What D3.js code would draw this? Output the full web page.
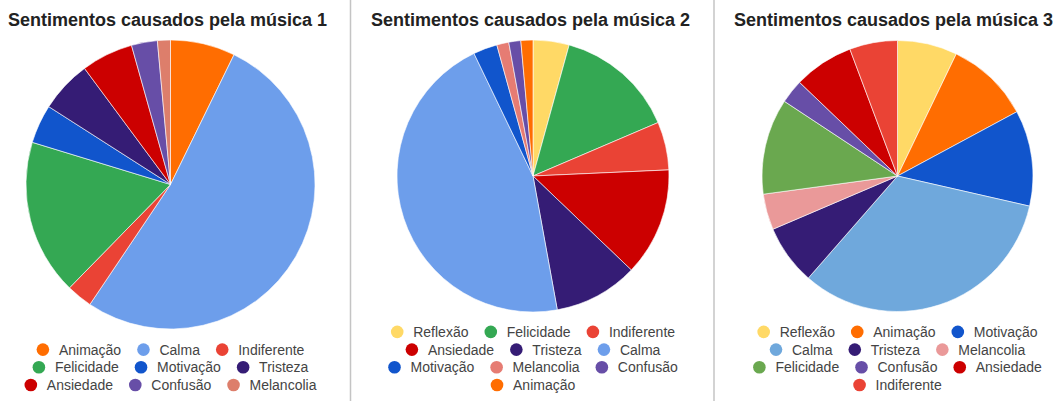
<!DOCTYPE html>
<html>
<head>
<meta charset="utf-8">
<script src="https://cdn.jsdelivr.net/npm/d3@7"></script>
<style>
    body { margin: 0; background: #fff; }
    .title { font-family: Arial, "Liberation Sans", sans-serif; font-weight: bold; font-size: 18px; fill: #222; }
    .legendText { font-family: Arial, "Liberation Sans", sans-serif; font-size: 14px; fill: #444; }
    .divider { stroke: #c4c4c4; stroke-width: 1.5; }
    .slice { stroke: #fff; stroke-width: 0.6; }
</style>
</head>
<body>
<script>
(function(){

    //data for each chart, slices in clockwise order from the top
    var titles = ["Sentimentos causados pela música 1", "Sentimentos causados pela música 2", "Sentimentos causados pela música 3"];

    var labels1 = ["Animação","Calma","Indiferente","Felicidade","Motivação","Tristeza","Ansiedade","Confusão","Melancolia"];
    var values1 = [5, 36, 2, 12, 3, 4, 4, 2, 1];
    var colors1 = ["#ff6d01","#6d9eeb","#ea4335","#34a853","#1155cc","#351c75","#cc0000","#674ea7","#dd7e6b"];

    var labels2 = ["Reflexão","Felicidade","Indiferente","Ansiedade","Tristeza","Calma","Motivação","Melancolia","Confusão","Animação"];
    var values2 = [3, 10, 4, 9, 7, 32, 2, 1, 1, 1];
    var colors2 = ["#ffd966","#34a853","#ea4335","#cc0000","#351c75","#6d9eeb","#1155cc","#e67c73","#674ea7","#ff6d01"];

    var labels3 = ["Reflexão","Animação","Motivação","Calma","Tristeza","Melancolia","Felicidade","Confusão","Ansiedade","Indiferente"];
    var values3 = [5, 7, 8, 23, 5, 3, 8, 2, 5, 4];
    var colors3 = ["#ffd966","#ff6d01","#1155cc","#6fa8dc","#351c75","#ea9999","#6aa84f","#674ea7","#cc0000","#ea4335"];

    //svg frame
    var width = 1058,
        height = 401;

    var svg = d3.select("body")
        .append("svg")
        .attr("width", width)
        .attr("height", height);

    //panel layout: title x, pie center, radius
    var panels = [
        {titleX: 8,   cx: 170.5, cy: 184.5, r: 144.5, labels: labels1, values: values1, colors: colors1},
        {titleX: 371, cx: 533,   cy: 176,   r: 136,   labels: labels2, values: values2, colors: colors2},
        {titleX: 734, cx: 897.5, cy: 176,   r: 135.5, labels: labels3, values: values3, colors: colors3}
    ];

    //vertical dividers between the panels
    [350.5, 714].forEach(function(x){
        svg.append("line")
            .attr("class", "divider")
            .attr("x1", x).attr("x2", x)
            .attr("y1", 0).attr("y2", height);
    });

    panels.forEach(function(p, i){
        drawPanel(p, titles[i]);
    });

    function drawPanel(p, title){

        var g = svg.append("g");

        //title
        g.append("text")
            .attr("class", "title")
            .attr("x", p.titleX)
            .attr("y", 26)
            .text(title);

        //pie generator keeps the data order, starting at 12 o'clock
        var pie = d3.pie()
            .sort(null)
            .value(function(d){ return d; });

        var arc = d3.arc()
            .innerRadius(0)
            .outerRadius(p.r);

        var color = d3.scaleOrdinal()
            .domain(p.labels)
            .range(p.colors);

        g.append("g")
            .attr("transform", "translate(" + p.cx + "," + p.cy + ")")
            .selectAll(".slice")
            .data(pie(p.values))
            .enter()
            .append("path")
            .attr("class", "slice")
            .attr("d", arc)
            .style("fill", function(d, j){ return color(p.labels[j]); });

        drawLegend(g, p, color);
    };

    //legend: three items per row, rows centered under the pie, anchored at the bottom
    function drawLegend(g, p, color){
        var perRow = 3,
            rowGap = 17.7,
            lastRowY = 385,
            dotR = 6.3,
            textOffset = 16,
            itemGap = 16;

        var rows = [];
        for (var k=0; k<p.labels.length; k+=perRow){
            rows.push(p.labels.slice(k, k+perRow));
        }

        rows.forEach(function(row, ri){
            var y = lastRowY - (rows.length - 1 - ri) * rowGap;
            var rowG = g.append("g");

            var x = 0;
            row.forEach(function(label){
                rowG.append("circle")
                    .attr("cx", x + dotR)
                    .attr("cy", y)
                    .attr("r", dotR)
                    .style("fill", color(label));

                var t = rowG.append("text")
                    .attr("class", "legendText")
                    .attr("x", x + dotR + textOffset)
                    .attr("y", y + 5)
                    .text(label);

                x += dotR + textOffset + t.node().getComputedTextLength() + itemGap;
            });

            var rowWidth = x - itemGap;
            rowG.attr("transform", "translate(" + (p.cx - rowWidth / 2) + ",0)");
        });
    };

})();
</script>
</body>
</html>
